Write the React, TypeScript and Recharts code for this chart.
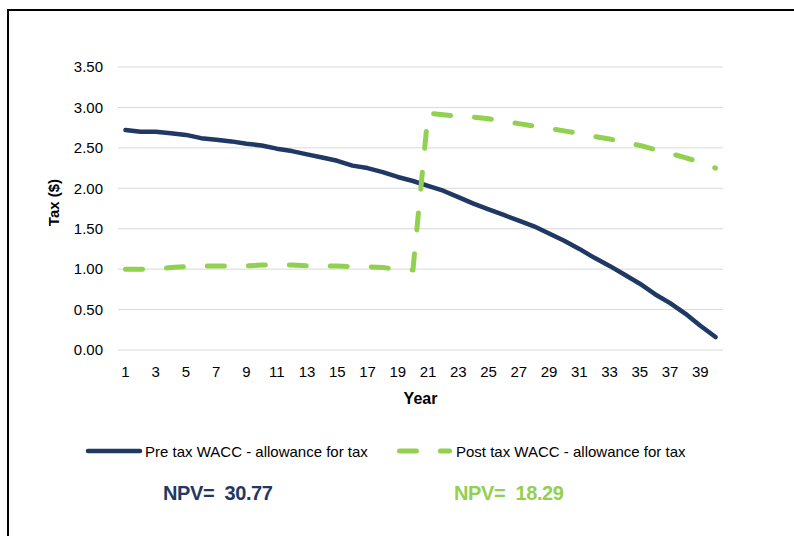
import { LineChart, Line, XAxis, YAxis, CartesianGrid } from 'recharts';

const years = [
  1, 2, 3, 4, 5, 6, 7, 8, 9, 10, 11, 12, 13, 14, 15, 16, 17, 18, 19, 20,
  21, 22, 23, 24, 25, 26, 27, 28, 29, 30, 31, 32, 33, 34, 35, 36, 37, 38, 39, 40,
];

const preTax = [
  2.72, 2.7, 2.7, 2.68, 2.66, 2.62, 2.6, 2.58, 2.55, 2.53, 2.49, 2.46, 2.42, 2.38, 2.34, 2.28, 2.25, 2.2, 2.14, 2.09,
  2.03, 1.97, 1.89, 1.81, 1.74, 1.67, 1.6, 1.53, 1.44, 1.35, 1.25, 1.14, 1.04, 0.93, 0.82, 0.69, 0.58, 0.45, 0.3, 0.16,
];

const postTax = [
  1.0, 1.0, 1.0, 1.02, 1.03, 1.04, 1.04, 1.04, 1.04, 1.05, 1.06, 1.05, 1.04, 1.04, 1.04, 1.03, 1.03, 1.02, 1.0, 0.99,
  2.93, 2.91, 2.89, 2.88, 2.86, 2.83, 2.8, 2.77, 2.74, 2.71, 2.68, 2.64, 2.61, 2.57, 2.53, 2.48, 2.43, 2.38, 2.32, 2.25,
];

const yTicks = [0, 0.5, 1, 1.5, 2, 2.5, 3, 3.5];

const seriesNames = ['Pre tax WACC - allowance for tax', 'Post tax WACC - allowance for tax'];
const npvValues = ['30.77', '18.29'];

const data = years.map((year, i) => ({ year, preTax: preTax[i], postTax: postTax[i] }));

const BLUE = '#1F3864';
const GREEN = '#92D050';
const FONT = "'Liberation Sans', Arial, sans-serif";

export default function App() {
  return (
    <div style={{ position: 'absolute', left: 0, top: 0, width: 794, height: 536, background: '#fff', fontFamily: FONT }}>
      <div
        style={{
          position: 'absolute',
          left: 7,
          top: 9,
          right: 0,
          bottom: 0,
          borderTop: '2px solid #000',
          borderLeft: '2px solid #000',
        }}
      />
      <div style={{ position: 'absolute', left: 0, top: 0 }}>
        <LineChart width={794} height={420} data={data} margin={{ top: 67, right: 71, left: 0, bottom: 0 }}>
          <CartesianGrid vertical={false} stroke="#D9D9D9" strokeWidth={1} />
          <XAxis
            dataKey="year"
            type="category"
            interval={1}
            height={70}
            padding={{ left: 7.5, right: 7.5 }}
            tickLine={false}
            axisLine={false}
            tickMargin={10}
            tick={{ fill: '#000', fontSize: 15, fontFamily: FONT }}
            label={{
              content: () => (
                <text x={420.5} y={404} textAnchor="middle" fontSize={16} fontWeight="bold" fill="#000" fontFamily={FONT}>
                  Year
                </text>
              ),
            }}
          />
          <YAxis
            width={118}
            domain={[0, 3.5]}
            ticks={yTicks}
            tickFormatter={(v: number) => v.toFixed(2)}
            tickLine={false}
            axisLine={false}
            tickMargin={9}
            tick={{ fill: '#000', fontSize: 15, fontFamily: FONT }}
            label={{
              content: () => (
                <text
                  x={53}
                  y={202.5}
                  transform="rotate(-90 53 202.5)"
                  textAnchor="middle"
                  dominantBaseline="central"
                  fontSize={15}
                  fontWeight="bold"
                  fill="#000"
                  fontFamily={FONT}
                >
                  Tax ($)
                </text>
              ),
            }}
          />
          <Line
            type="linear"
            dataKey="preTax"
            name={seriesNames[0]}
            stroke={BLUE}
            strokeWidth={4.5}
            strokeLinecap="round"
            strokeLinejoin="round"
            dot={false}
            activeDot={false}
            isAnimationActive={false}
          />
          <Line
            type="linear"
            dataKey="postTax"
            name={seriesNames[1]}
            stroke={GREEN}
            strokeWidth={5}
            strokeDasharray="17 24"
            strokeLinecap="round"
            strokeLinejoin="round"
            dot={false}
            activeDot={false}
            isAnimationActive={false}
          />
        </LineChart>
      </div>

      {/* legend */}
      <svg style={{ position: 'absolute', left: 0, top: 438 }} width={794} height={26}>
        <line x1={88} y1={13} x2={140} y2={13} stroke={BLUE} strokeWidth={4.5} strokeLinecap="round" />
        <text x={145} y={18.5} fontSize={15} fill="#000" fontFamily={FONT}>
          {seriesNames[0]}
        </text>
        <line
          x1={399.5}
          y1={13}
          x2={449.5}
          y2={13}
          stroke={GREEN}
          strokeWidth={5}
          strokeDasharray="17 24"
          strokeLinecap="round"
        />
        <text x={456} y={18.5} fontSize={15} fill="#000" fontFamily={FONT}>
          {seriesNames[1]}
        </text>
      </svg>

      {/* NPV annotations */}
      <div
        style={{
          position: 'absolute',
          left: 163,
          top: 481,
          fontSize: 20,
          fontWeight: 'bold',
          color: BLUE,
          whiteSpace: 'pre',
          lineHeight: '24px',
          letterSpacing: -0.4,
        }}
      >
        {'NPV=  ' + npvValues[0]}
      </div>
      <div
        style={{
          position: 'absolute',
          left: 454,
          top: 481,
          fontSize: 20,
          fontWeight: 'bold',
          color: GREEN,
          whiteSpace: 'pre',
          lineHeight: '24px',
          letterSpacing: -0.4,
        }}
      >
        {'NPV=  ' + npvValues[1]}
      </div>
    </div>
  );
}
